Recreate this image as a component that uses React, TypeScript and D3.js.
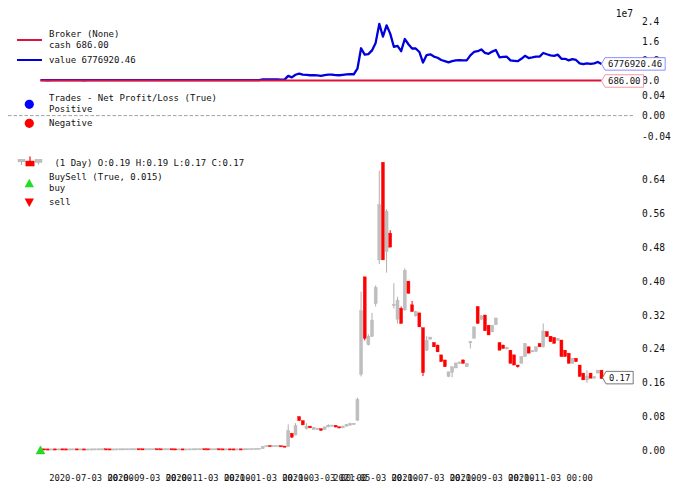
import React from 'react';
import * as d3 from 'd3';

// ---- data ----
const opens = [
  0.0030, 0.0031, 0.0029, 0.0028, 0.0030, 0.0029, 0.0031, 0.0030, 0.0029, 0.0030,
  0.0031, 0.0029, 0.0030, 0.0028, 0.0029, 0.0030, 0.0031, 0.0031, 0.0032, 0.0030,
  0.0029, 0.0030, 0.0031, 0.0032, 0.0032, 0.0033, 0.0033, 0.0034, 0.0032, 0.0031,
  0.0032, 0.0033, 0.0034, 0.0032, 0.0031, 0.0032, 0.0033, 0.0031, 0.0030, 0.0031,
  0.0029, 0.0030, 0.0031, 0.0032, 0.0033, 0.0034, 0.0032, 0.0031, 0.0032, 0.0033,
  0.0031, 0.0030, 0.0031, 0.0030, 0.0029, 0.0031, 0.0030, 0.0033, 0.0036, 0.0038,
  0.0040, 0.0045, 0.0105, 0.0112, 0.0106, 0.0108, 0.0112, 0.0098, 0.0094, 0.0410,
  0.0370, 0.0800, 0.0710, 0.0520, 0.0580, 0.0500, 0.0500, 0.0520, 0.0500, 0.0560,
  0.0580, 0.0600, 0.0560, 0.0540, 0.0580, 0.0600, 0.0620, 0.0720, 0.180, 0.410,
  0.250, 0.270, 0.347, 0.450, 0.680, 0.470, 0.513, 0.342, 0.310, 0.336,
  0.332, 0.400, 0.344, 0.318, 0.325, 0.290, 0.237, 0.263, 0.255, 0.249,
  0.226, 0.214, 0.175, 0.185, 0.195, 0.206, 0.214, 0.198, 0.255, 0.265,
  0.340, 0.310, 0.320, 0.296, 0.280, 0.297, 0.255, 0.249, 0.240, 0.237,
  0.226, 0.202, 0.206, 0.222, 0.245, 0.233, 0.234, 0.253, 0.245, 0.281,
  0.270, 0.267, 0.260, 0.261, 0.237, 0.230, 0.206, 0.218, 0.202, 0.183,
  0.167, 0.183, 0.171, 0.183, 0.190,
];
const highs = [
  0.0031, 0.0031, 0.0030, 0.0030, 0.0030, 0.0031, 0.0031, 0.0030, 0.0030, 0.0031,
  0.0031, 0.0030, 0.0030, 0.0029, 0.0030, 0.0031, 0.0031, 0.0032, 0.0032, 0.0030,
  0.0030, 0.0031, 0.0032, 0.0032, 0.0033, 0.0033, 0.0034, 0.0034, 0.0032, 0.0032,
  0.0033, 0.0034, 0.0034, 0.0032, 0.0032, 0.0033, 0.0033, 0.0031, 0.0031, 0.0031,
  0.0030, 0.0031, 0.0032, 0.0033, 0.0034, 0.0034, 0.0032, 0.0032, 0.0033, 0.0033,
  0.0031, 0.0031, 0.0031, 0.0030, 0.0031, 0.0031, 0.0033, 0.0036, 0.0038, 0.0040,
  0.0045, 0.0110, 0.0113, 0.0112, 0.0108, 0.0112, 0.0112, 0.0098, 0.0620, 0.0420,
  0.0650, 0.0820, 0.0710, 0.0650, 0.0580, 0.0560, 0.0530, 0.0520, 0.0570, 0.0630,
  0.0610, 0.0600, 0.0560, 0.0590, 0.0630, 0.0660, 0.0650, 0.1250, 0.375, 0.410,
  0.275, 0.325, 0.390, 0.660, 0.680, 0.570, 0.520, 0.395, 0.363, 0.340,
  0.430, 0.400, 0.353, 0.330, 0.325, 0.290, 0.270, 0.268, 0.256, 0.250,
  0.226, 0.214, 0.186, 0.198, 0.207, 0.210, 0.215, 0.206, 0.258, 0.292,
  0.340, 0.320, 0.320, 0.296, 0.296, 0.313, 0.255, 0.250, 0.245, 0.237,
  0.226, 0.202, 0.222, 0.253, 0.245, 0.237, 0.245, 0.253, 0.300, 0.281,
  0.270, 0.267, 0.265, 0.261, 0.237, 0.230, 0.218, 0.218, 0.202, 0.183,
  0.190, 0.183, 0.175, 0.190, 0.190,
];
const lows = [
  0.0029, 0.0029, 0.0028, 0.0028, 0.0029, 0.0029, 0.0030, 0.0029, 0.0029, 0.0030,
  0.0029, 0.0029, 0.0028, 0.0028, 0.0029, 0.0030, 0.0031, 0.0031, 0.0030, 0.0029,
  0.0029, 0.0030, 0.0031, 0.0032, 0.0032, 0.0033, 0.0033, 0.0032, 0.0031, 0.0031,
  0.0032, 0.0033, 0.0032, 0.0031, 0.0031, 0.0032, 0.0031, 0.0030, 0.0030, 0.0029,
  0.0029, 0.0030, 0.0031, 0.0032, 0.0033, 0.0032, 0.0031, 0.0031, 0.0032, 0.0031,
  0.0030, 0.0030, 0.0030, 0.0029, 0.0029, 0.0030, 0.0030, 0.0033, 0.0036, 0.0038,
  0.0040, 0.0045, 0.0105, 0.0106, 0.0106, 0.0108, 0.0098, 0.0094, 0.0090, 0.0300,
  0.0360, 0.0700, 0.0600, 0.0500, 0.0530, 0.0500, 0.0490, 0.0470, 0.0500, 0.0550,
  0.0570, 0.0550, 0.0530, 0.0530, 0.0570, 0.0590, 0.0610, 0.0700, 0.175, 0.260,
  0.248, 0.268, 0.340, 0.440, 0.450, 0.420, 0.480, 0.335, 0.300, 0.300,
  0.330, 0.371, 0.328, 0.316, 0.292, 0.176, 0.235, 0.262, 0.245, 0.233,
  0.210, 0.198, 0.174, 0.173, 0.195, 0.205, 0.206, 0.198, 0.241, 0.265,
  0.300, 0.308, 0.283, 0.273, 0.280, 0.297, 0.237, 0.241, 0.239, 0.206,
  0.202, 0.196, 0.206, 0.222, 0.230, 0.233, 0.234, 0.245, 0.243, 0.269,
  0.257, 0.253, 0.260, 0.222, 0.222, 0.206, 0.206, 0.210, 0.175, 0.167,
  0.160, 0.171, 0.171, 0.183, 0.170,
];
const closes = [
  0.0031, 0.0029, 0.0028, 0.0030, 0.0029, 0.0031, 0.0030, 0.0029, 0.0030, 0.0031,
  0.0029, 0.0030, 0.0028, 0.0029, 0.0030, 0.0031, 0.0031, 0.0032, 0.0030, 0.0029,
  0.0030, 0.0031, 0.0032, 0.0032, 0.0033, 0.0033, 0.0034, 0.0032, 0.0031, 0.0032,
  0.0033, 0.0034, 0.0032, 0.0031, 0.0032, 0.0033, 0.0031, 0.0030, 0.0031, 0.0029,
  0.0030, 0.0031, 0.0032, 0.0033, 0.0034, 0.0032, 0.0031, 0.0032, 0.0033, 0.0031,
  0.0030, 0.0031, 0.0030, 0.0029, 0.0031, 0.0030, 0.0033, 0.0036, 0.0038, 0.0040,
  0.0045, 0.0105, 0.0112, 0.0106, 0.0108, 0.0112, 0.0098, 0.0094, 0.0470, 0.0320,
  0.0590, 0.0710, 0.0610, 0.0580, 0.0540, 0.0550, 0.0520, 0.0480, 0.0560, 0.0600,
  0.0600, 0.0560, 0.0540, 0.0580, 0.0620, 0.0640, 0.0640, 0.1210, 0.330, 0.265,
  0.270, 0.308, 0.385, 0.580, 0.450, 0.565, 0.480, 0.345, 0.355, 0.300,
  0.425, 0.371, 0.328, 0.328, 0.292, 0.184, 0.260, 0.268, 0.245, 0.233,
  0.210, 0.198, 0.186, 0.198, 0.207, 0.209, 0.206, 0.206, 0.257, 0.292,
  0.300, 0.318, 0.283, 0.273, 0.296, 0.313, 0.237, 0.241, 0.243, 0.206,
  0.202, 0.198, 0.222, 0.253, 0.230, 0.237, 0.245, 0.245, 0.282, 0.269,
  0.257, 0.253, 0.265, 0.222, 0.222, 0.206, 0.218, 0.210, 0.175, 0.167,
  0.176, 0.171, 0.175, 0.190, 0.170,
];
// broker value, in millions
const brokerValue = [
  0.124, 0.116, 0.112, 0.120, 0.116, 0.124, 0.120, 0.116, 0.120, 0.124,
  0.116, 0.120, 0.112, 0.116, 0.120, 0.124, 0.124, 0.128, 0.120, 0.116,
  0.120, 0.124, 0.128, 0.128, 0.132, 0.132, 0.136, 0.128, 0.124, 0.128,
  0.132, 0.136, 0.128, 0.124, 0.128, 0.132, 0.124, 0.120, 0.124, 0.116,
  0.120, 0.124, 0.128, 0.132, 0.136, 0.128, 0.124, 0.128, 0.132, 0.124,
  0.120, 0.124, 0.120, 0.116, 0.124, 0.120, 0.132, 0.143, 0.151, 0.159,
  0.179, 0.419, 0.446, 0.423, 0.430, 0.446, 0.391, 0.375, 1.87, 1.28,
  2.35, 2.83, 2.43, 2.31, 2.15, 2.19, 2.07, 1.91, 2.23, 2.39,
  2.39, 2.23, 2.15, 2.31, 2.47, 2.55, 2.55, 4.82, 13.15, 10.56,
  10.76, 12.28, 15.35, 23.12, 17.94, 22.52, 19.13, 13.75, 14.15, 11.96,
  16.94, 14.79, 13.07, 13.07, 11.64, 7.33, 10.36, 10.68, 9.77, 9.29,
  8.37, 7.89, 7.41, 7.89, 8.25, 8.33, 8.21, 8.21, 10.24, 11.64,
  11.96, 12.68, 11.28, 10.88, 11.80, 12.48, 9.45, 9.61, 9.69, 8.21,
  8.05, 7.89, 8.85, 10.08, 9.17, 9.45, 9.77, 9.77, 11.24, 10.72,
  10.24, 10.08, 10.56, 8.85, 8.85, 8.21, 8.69, 8.37, 6.98, 6.66,
  7.02, 6.82, 6.98, 7.57, 6.777,
];
const cashValue = 0.000686; // millions
const buyBars = [0];
const xTickBars = [14, 30, 46, 62, 78, 92, 108, 124, 140];
const xTickLabels = [
  '2020-07-03 00:00', '2020-09-03 00:00', '2020-11-03 00:00', '2021-01-03 00:00',
  '2021-03-03 00:00', '2021-05-03 00:00', '2021-07-03 00:00', '2021-09-03 00:00',
  '2021-11-03 00:00',
];
const priceTicks = [0, 0.08, 0.16, 0.24, 0.32, 0.4, 0.48, 0.56, 0.64];
const valueTicks = [0, 8, 16, 24];
const tradeTicks = [-0.04, 0, 0.04];

const MONO = "'DejaVu Sans Mono', 'Liberation Mono', monospace";
const UP = '#bfbfbf';
const DOWN = '#ff0000';
const CASH = '#dc143c';
const VALUE = '#0000dd';

function Tag({ x0, yc, text, edge, fs }: { x0: number; yc: number; text: string; edge: string; fs: number }) {
  const cw = fs * 0.602;
  const w = text.length * cw + 6;
  const h = 12.5;
  const a = 3.5;
  const d = `M${x0},${yc} L${x0 + a},${yc - h / 2} L${x0 + a + w},${yc - h / 2} L${x0 + a + w},${yc + h / 2} L${x0 + a},${yc + h / 2} Z`;
  return (
    <g>
      <path d={d} fill="white" stroke={edge} strokeWidth={0.8} />
      <text x={x0 + a + 3} y={yc} dominantBaseline="central" fontFamily={MONO} fontSize={fs} fill="#111">
        {text}
      </text>
    </g>
  );
}

export default function App() {
  const W = 680;
  const H = 491;
  const n = closes.length;
  const axL = 8;
  const axR = 633;
  const x = d3.scaleLinear().domain([0, n - 1]).range([40.5, 601.5]);
  const yP = d3.scaleLinear().domain([0, 0.64]).range([450.7, 179.3]);
  const yV = d3.scaleLinear().domain([0, 24]).range([80.5, 21.7]);
  const yT = d3.scaleLinear().domain([-0.04, 0.04]).range([136, 95.2]);

  const valueLine = d3.line<number>().x((_, i) => x(i)).y((d) => yV(d))(brokerValue) || '';
  const cashLine = d3.line<number>().x((_, i) => x(i)).y(() => yV(cashValue))(brokerValue) || '';

  const bodyW = 3.0;
  const legX = 49;
  const tickX = 642;
  const lf = 9;

  const triUp = (cx: number, cy: number, s: number) =>
    `M${cx},${cy - s * 0.55} L${cx + s * 0.55},${cy + s * 0.45} L${cx - s * 0.55},${cy + s * 0.45} Z`;
  const triDown = (cx: number, cy: number, s: number) =>
    `M${cx},${cy + s * 0.55} L${cx + s * 0.55},${cy - s * 0.45} L${cx - s * 0.55},${cy - s * 0.45} Z`;

  return (
    <svg
      width={W}
      height={H}
      viewBox={`0 0 ${W} ${H}`}
      style={{ position: 'absolute', left: 0, top: 0, background: 'white' }}
    >
      <rect x={0} y={0} width={W} height={H} fill="white" />

      {/* ---------- Broker panel ---------- */}
      <path d={valueLine} fill="none" stroke={VALUE} strokeWidth={2.3} strokeLinejoin="round" />
      <path d={cashLine} fill="none" stroke={CASH} strokeWidth={2} />
      <text x={axR} y={13} textAnchor="end" dominantBaseline="central" fontFamily={MONO} fontSize={9.6} fill="#111">
        1e7
      </text>
      {valueTicks.map((t) => (
        <text key={'v' + t} x={tickX} y={yV(t)} dominantBaseline="central" fontFamily={MONO} fontSize={9.6} fill="#111">
          {(t / 10).toFixed(1)}
        </text>
      ))}
      <Tag x0={601.5} yc={yV(brokerValue[n - 1])} text="6776920.46" edge="#7070ff" fs={9} />
      <Tag x0={601.5} yc={yV(cashValue) + 0.5} text="686.00" edge="#f08090" fs={9} />

      {/* legend broker */}
      <line x1={17} x2={42} y1={40} y2={40} stroke={CASH} strokeWidth={2} />
      <text x={legX} y={34} dominantBaseline="central" fontFamily={MONO} fontSize={lf} fill="#111">Broker (None)</text>
      <text x={legX} y={45} dominantBaseline="central" fontFamily={MONO} fontSize={lf} fill="#111">cash 686.00</text>
      <line x1={17} x2={42} y1={60} y2={60} stroke={VALUE} strokeWidth={2} />
      <text x={legX} y={60} dominantBaseline="central" fontFamily={MONO} fontSize={lf} fill="#111">value 6776920.46</text>

      {/* ---------- Trades panel ---------- */}
      <line x1={axL} x2={axR} y1={yT(0)} y2={yT(0)} stroke="#a0a0a0" strokeWidth={1} strokeDasharray="3.5,2" />
      {tradeTicks.map((t) => (
        <text key={'t' + t} x={tickX} y={yT(t)} dominantBaseline="central" fontFamily={MONO} fontSize={9.6} fill="#111">
          {t.toFixed(2)}
        </text>
      ))}
      <circle cx={29.3} cy={104.3} r={4.6} fill="#0000ff" />
      <text x={legX} y={98.3} dominantBaseline="central" fontFamily={MONO} fontSize={lf} fill="#111">Trades - Net Profit/Loss (True)</text>
      <text x={legX} y={108.6} dominantBaseline="central" fontFamily={MONO} fontSize={lf} fill="#111">Positive</text>
      <circle cx={29.3} cy={123.3} r={4.6} fill="#ff0000" />
      <text x={legX} y={123.3} dominantBaseline="central" fontFamily={MONO} fontSize={lf} fill="#111">Negative</text>

      {/* ---------- Price panel ---------- */}
      {closes.map((c, i) => {
        const o = opens[i];
        const up = c >= o;
        const col = up ? UP : DOWN;
        const yTop = yP(Math.max(o, c));
        const yBot = yP(Math.min(o, c));
        const hgt = Math.max(1.2, yBot - yTop);
        return (
          <g key={'c' + i}>
            <line x1={x(i)} x2={x(i)} y1={yP(highs[i])} y2={yP(lows[i])} stroke={up ? '#b0b0b0' : DOWN} strokeWidth={1} />
            <rect
              x={x(i) - bodyW / 2}
              y={hgt === 1.2 ? (yTop + yBot) / 2 - 0.6 : yTop}
              width={bodyW}
              height={hgt}
              fill={col}
              stroke={up ? '#b3b3b3' : DOWN}
              strokeWidth={0.4}
            />
          </g>
        );
      })}
      {buyBars.map((b) => (
        <path key={'b' + b} d={triUp(x(b), yP(lows[b] * (1 - 0.015)) + 0.8, 8)} fill="#22dd22" stroke="#1fc01f" strokeWidth={0.5} />
      ))}
      {priceTicks.map((t) => (
        <text key={'p' + t} x={tickX} y={yP(t)} dominantBaseline="central" fontFamily={MONO} fontSize={9.6} fill="#111">
          {t.toFixed(2)}
        </text>
      ))}
      <Tag x0={602.5} yc={yP(closes[n - 1]) - 1} text="0.17" edge="#555" fs={8.8} />

      {/* legend price */}
      <g>
        <line x1={21.5} x2={21.5} y1={159.5} y2={165} stroke="#a8a8a8" strokeWidth={1} />
        <rect x={18} y={159.3} width={7} height={2.6} fill={UP} stroke="#a8a8a8" strokeWidth={0.4} />
        <line x1={30} x2={30} y1={156.5} y2={161} stroke={DOWN} strokeWidth={1.2} />
        <rect x={25.5} y={160.8} width={9} height={5.5} fill={DOWN} />
        <rect x={35} y={159.3} width={7} height={3.2} fill={UP} stroke="#a8a8a8" strokeWidth={0.4} />
        <line x1={38.5} x2={38.5} y1={162.5} y2={164.5} stroke="#a8a8a8" strokeWidth={1} />
      </g>
      <text x={legX} y={162.7} dominantBaseline="central" fontFamily={MONO} fontSize={lf} fill="#111" style={{ whiteSpace: 'pre' }}>
        {' (1 Day) O:0.19 H:0.19 L:0.17 C:0.17'}
      </text>
      <path d={triUp(29.3, 183.3, 8.5)} fill="#22dd22" />
      <text x={legX} y={177.3} dominantBaseline="central" fontFamily={MONO} fontSize={lf} fill="#111">BuySell (True, 0.015)</text>
      <text x={legX} y={188.3} dominantBaseline="central" fontFamily={MONO} fontSize={lf} fill="#111">buy</text>
      <path d={triDown(29.3, 202.3, 8.5)} fill="#ff0000" />
      <text x={legX} y={202.3} dominantBaseline="central" fontFamily={MONO} fontSize={lf} fill="#111">sell</text>

      {/* ---------- x axis labels ---------- */}
      {xTickBars.map((b, k) => (
        <text key={'x' + k} x={x(b)} y={478} textAnchor="middle" dominantBaseline="central" fontFamily={MONO} fontSize={8.8} fill="#111" style={{ whiteSpace: 'pre' }}>
          {xTickLabels[k]}
        </text>
      ))}
    </svg>
  );
}
